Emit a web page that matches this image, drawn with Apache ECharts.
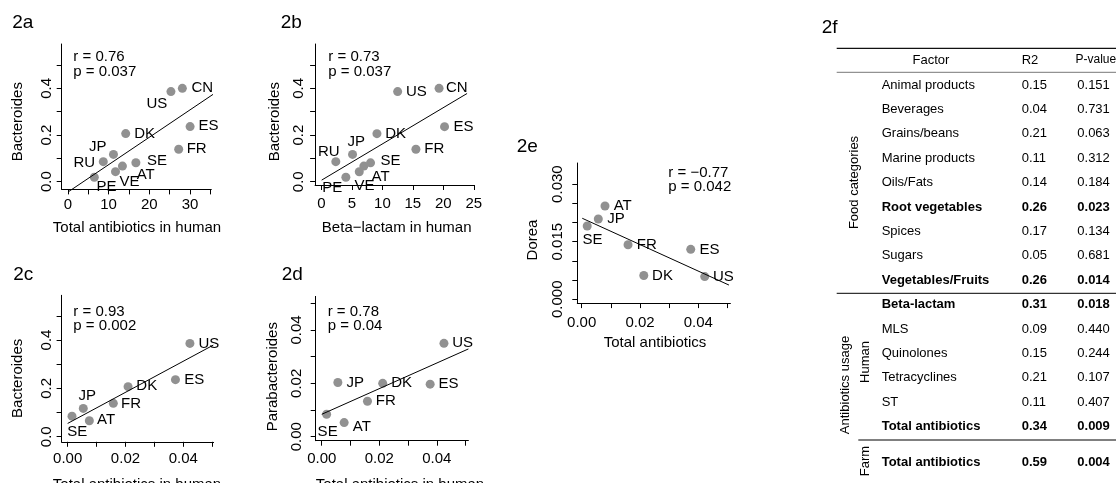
<!DOCTYPE html>
<html><head><meta charset="utf-8">
<script src="https://cdn.jsdelivr.net/npm/echarts@6/dist/echarts.min.js"></script>
<style>html,body{margin:0;padding:0;background:#fff}#c{width:1116px;height:483px}</style>
</head><body><div id="c"></div>
<script>
// ================= DATA =================
// 2a / 2b : Bacteroides vs human antibiotic use (11 countries)
const countriesAB = ['CN','US','ES','FR','DK','JP','RU','SE','AT','VE','PE'];
const bacteroidesAB = [0.400,0.386,0.236,0.139,0.206,0.117,0.086,0.081,0.067,0.043,0.019];
const totalHumanA = [28.1,25.3,30.0,27.2,14.2,11.2,8.7,16.7,13.4,11.7,6.5];
const betaLactamB = [19.3,12.5,20.2,15.5,9.1,5.1,2.35,8.05,6.95,6.2,4.0];
// 2c / 2d : 7 countries
const countriesCD = ['US','ES','DK','FR','JP','AT','SE'];
const totalHumanC = [0.0423,0.0373,0.0209,0.0158,0.0054,0.0075,0.0015];
const bacteroidesC = [0.386,0.236,0.207,0.138,0.117,0.066,0.085];
const totalHumanD = [0.0425,0.0377,0.0212,0.0159,0.0056,0.0078,0.0017];
const parabacteroidesD = [0.0350,0.0197,0.0200,0.0133,0.0203,0.0053,0.0084];
// 2e : Dorea vs total antibiotics
const countriesE = ['AT','JP','SE','FR','ES','DK','US'];
const totalE = [0.0080,0.0057,0.0019,0.0159,0.0374,0.0213,0.0422];
const doreaE = [0.0243,0.0209,0.0191,0.0142,0.0130,0.0062,0.0059];
// regression line end points
const fitA = [[0.15,-0.043],[35.7,0.375]];
const fitB = [[0.03,0.007],[23.9,0.378]];
const fitC = [[0.0,0.055],[0.0504,0.379]];
const fitD = [[0.0,0.0084],[0.0510,0.0329]];
const fitE = [[0.0002,0.0211],[0.0505,0.0037]];
// correlation annotations
const panelNames = ['2a','2b','2c','2d','2e'];
const rValues = ['0.76','0.73','0.93','0.78','\u22120.77'];
const pValues = ['0.037','0.037','0.002','0.04','0.042'];
const xTitles = ['Total antibiotics in human','Beta\u2212lactam in human','Total antibiotics in human','Total antibiotics in human','Total antibiotics'];
const yTitles = ['Bacteroides','Bacteroides','Bacteroides','Parabacteroides','Dorea'];
// ticks / tick labels
const xTicksA = [0,5,10,15,20,25,30,35];
const xLabelsA = [0,10,20,30];
const xTicksB = [0,5,10,15,20,25];
const xLabelsB = [0,5,10,15,20,25];
const yTicksABC = [0,0.1,0.2,0.3,0.4,0.5];
const yLabelsABC = [0,0.2,0.4];
const xTicksCDE = [0,0.01,0.02,0.03,0.04,0.05];
const xLabelsCDE = [0,0.02,0.04];
const yTicksD = [0,0.01,0.02,0.03,0.04,0.05];
const yLabelsD = [0,0.02,0.04];
const yTicksE = [0,0.005,0.01,0.015,0.02,0.025,0.03];
const yLabelsE = [0,0.015,0.03];
// 2f table
const tableFactors = ['Animal products','Beverages','Grains/beans','Marine products','Oils/Fats','Root vegetables','Spices','Sugars','Vegetables/Fruits','Beta-lactam','MLS','Quinolones','Tetracyclines','ST','Total antibiotics','Total antibiotics'];
const tableR2 = ['0.15','0.04','0.21','0.11','0.14','0.26','0.17','0.05','0.26','0.31','0.09','0.15','0.21','0.11','0.34','0.59'];
const tableP = ['0.151','0.731','0.063','0.312','0.184','0.023','0.134','0.681','0.014','0.018','0.440','0.244','0.107','0.407','0.009','0.004'];
const tableHeader = ['Factor','R2','P-value'];
const groupLabels = ['Food categories','Antibiotics usage','Human','Farm'];

// ================= LAYOUT / STYLE =================
const FONT = 'Liberation Sans, Arial, Helvetica, sans-serif';
const PT = '#919191';
const panels = [
  {grid:{left:61.7,top:44,width:149.6,height:145.4}, x:[-1.5,35.2], y:[-0.033,0.59],
   xs:totalHumanA, ys:bacteroidesAB, names:countriesAB, fit:fitA,
   xt:xTicksA, xl:xLabelsA, yt:yTicksABC, yl:yLabelsABC, xd:0, yd:1, xm:7.5, ym:7.5,
   off:{CN:[20,0],US:[-14,12.3],ES:[18.3,-0.7],FR:[18,0],DK:[19,0],JP:[-15.7,-7.7],RU:[-19,1],SE:[21,-2.3],AT:[23.3,9],VE:[14,10],PE:[12.3,10]},
   title:[12.3,22.5], xT:[137,227.7], yT:[18.3,121.7], st:[73.3,57]},
  {grid:{left:315.1,top:44,width:159.3,height:141}, x:[-1.05,25.1], y:[-0.014,0.59],
   xs:betaLactamB, ys:bacteroidesAB, names:countriesAB, fit:fitB,
   xt:xTicksB, xl:xLabelsB, yt:yTicksABC, yl:yLabelsABC, xd:0, yd:1, xm:11, ym:9,
   off:{CN:[17.7,0],US:[18.7,0],ES:[19,0],FR:[18.3,0],DK:[18.7,0],JP:[3.7,-12.7],RU:[-7,-9.3],SE:[20,-1.7],AT:[16.7,10.7],VE:[5.3,14],PE:[-13.7,11]},
   title:[280.7,22.5], xT:[396.7,227.7], yT:[275,121.7], st:[328.3,57]},
  {grid:{left:61.6,top:295.3,width:152,height:146.5}, x:[-0.0021,0.0505], y:[-0.021,0.585],
   xs:totalHumanC, ys:bacteroidesC, names:countriesCD, fit:fitC,
   xt:xTicksCDE, xl:xLabelsCDE, yt:yTicksABC, yl:yLabelsABC, xd:2, yd:1, xm:10, ym:7.5,
   off:{US:[19,0],ES:[18.7,0],DK:[18.7,-0.7],FR:[17.7,0],JP:[4,-12.7],AT:[16.7,-0.7],SE:[5.3,15.7]},
   title:[13.3,275], xT:[137,485], yT:[18.3,378.3], st:[73.3,311.7]},
  {grid:{left:315.7,top:296.4,width:152.7,height:144.3}, x:[-0.0021,0.0510], y:[-0.0015,0.0526],
   xs:totalHumanD, ys:parabacteroidesD, names:countriesCD, fit:fitD,
   xt:xTicksCDE, xl:xLabelsCDE, yt:yTicksD, yl:yLabelsD, xd:2, yd:2, xm:11, ym:11.5,
   off:{US:[18.7,0],ES:[18.3,0],DK:[19,0],FR:[18.3,0],JP:[17.3,0],AT:[17.7,4.7],SE:[1,18]},
   title:[281.7,275], xT:[400,485], yT:[273.3,376.7], st:[327.7,311.7]},
  {grid:{left:577.3,top:163,width:153.1,height:140.1}, x:[-0.0015,0.0510], y:[-0.001,0.0355],
   xs:totalE, ys:doreaE, names:countriesE, fit:fitE,
   xt:xTicksCDE, xl:xLabelsCDE, yt:yTicksE, yl:yLabelsE, xd:2, yd:3, xm:12, ym:11.5,
   off:{AT:[17.7,0],JP:[17.7,0],SE:[5.3,14],FR:[18.7,0],ES:[18.7,0],DK:[18.7,0],US:[18.7,0]},
   title:[516.7,146.7], xT:[655,343.3], yT:[533.3,240], st:[668.3,172.7]}
];

const grids=[], xAxes=[], yAxes=[], series=[], graphics=[];
function txt(x,y,text,opt){
  opt=opt||{};
  return {type:'text', x:x, y:y, rotation:opt.rot||0, silent:true, z:10,
    style:{text:text, font:(opt.weight||'normal')+' '+(opt.size||15)+'px '+FONT, fill:'#000',
      textAlign:opt.align||'left', align:opt.align||'left', textVerticalAlign:'middle', verticalAlign:'middle'}};
}
panels.forEach((p,i)=>{
  grids.push(Object.assign({containLabel:false}, p.grid));
  const axLine={show:true,onZero:false,lineStyle:{color:'#000',width:1}};
  xAxes.push({type:'value', gridIndex:i, min:p.x[0], max:p.x[1], splitLine:{show:false},
    axisLine:axLine, axisTick:{show:true,length:5,customValues:p.xt,lineStyle:{color:'#000'}},
    axisLabel:{customValues:p.xl, margin:p.xm, fontSize:15, fontFamily:FONT, color:'#000',
      formatter:v=>Number(v).toFixed(p.xd)}});
  yAxes.push({type:'value', gridIndex:i, min:p.y[0], max:p.y[1], splitLine:{show:false},
    axisLine:axLine, axisTick:{show:true,length:5,customValues:p.yt,lineStyle:{color:'#000'}},
    axisLabel:{customValues:p.yl, rotate:90, margin:p.ym, fontSize:15, fontFamily:FONT, color:'#000',
      formatter:v=>Number(v).toFixed(p.yd)}});
  series.push({type:'line', xAxisIndex:i, yAxisIndex:i, data:p.fit, symbol:'none', silent:true, clip:false,
    lineStyle:{color:'#000',width:1}, z:3});
  series.push({type:'scatter', xAxisIndex:i, yAxisIndex:i, symbol:'circle', symbolSize:9, z:2,
    itemStyle:{color:PT, opacity:1},
    data:p.names.map((n,k)=>({name:n, value:[p.xs[k],p.ys[k]],
      label:{show:true, position:'inside', offset:p.off[n]||[18,0]}})),
    label:{show:true, formatter:'{b}', fontSize:15, fontFamily:FONT, color:'#000'}});
  graphics.push(txt(p.title[0],p.title[1],panelNames[i],{size:19}));
  graphics.push(txt(p.xT[0],p.xT[1],xTitles[i],{align:'center'}));
  graphics.push(txt(p.yT[0],p.yT[1],yTitles[i],{align:'center',rot:Math.PI/2}));
  graphics.push(txt(p.st[0],p.st[1],'r = '+rValues[i]));
  graphics.push(txt(p.st[0],p.st[1]+14.5,'p = '+pValues[i]));
});

// ---- 2f table ----
graphics.push(txt(821.7,27.5,'2f',{size:19}));
const colFactor=881.7, colR2=1021.7, colP=1077.3;
function rowY(i){ return 85 + i*24.4 + (i===15 ? 11.3 : 0); }
graphics.push(txt(931,60,tableHeader[0],{size:13,align:'center'}));
graphics.push(txt(colR2,60,tableHeader[1],{size:13}));
graphics.push(txt(1075.5,60,tableHeader[2],{size:12}));
tableFactors.forEach((f,i)=>{
  const w = parseFloat(tableP[i]) < 0.05 ? 'bold' : 'normal';
  const y = rowY(i);
  graphics.push(txt(colFactor,y,f,{size:13,weight:w}));
  graphics.push(txt(colR2,y,tableR2[i],{size:13,weight:w}));
  graphics.push(txt(colP,y,tableP[i],{size:13,weight:w}));
});
function hline(x1,x2,y,w,c){ return {type:'line', silent:true, shape:{x1:x1,y1:y,x2:x2,y2:y}, style:{stroke:c,lineWidth:w}}; }
graphics.push(hline(836.7,1116,48.3,1.3,'#111'));
graphics.push(hline(836.7,1116,72.3,1,'#777'));
graphics.push(hline(836.7,1116,293.3,1,'#000'));
graphics.push(hline(858.3,1116,440,1,'#000'));
graphics.push(txt(854.3,182.5,groupLabels[0],{size:13,align:'center',rot:Math.PI/2}));
graphics.push(txt(845,385,groupLabels[1],{size:13,align:'center',rot:Math.PI/2}));
graphics.push(txt(865,362,groupLabels[2],{size:13,align:'center',rot:Math.PI/2}));
graphics.push(txt(865,461,groupLabels[3],{size:13,align:'center',rot:Math.PI/2}));

const chart = echarts.init(document.getElementById('c'), null, {renderer:'canvas'});
chart.setOption({
  animation:false, backgroundColor:'#fff',
  grid:grids, xAxis:xAxes, yAxis:yAxes, series:series, graphic:{elements:graphics}
});
</script></body></html>
